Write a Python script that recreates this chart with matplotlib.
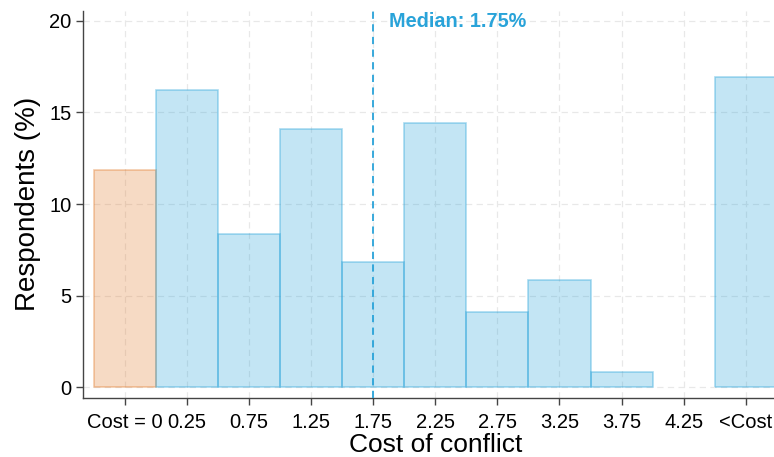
import matplotlib
matplotlib.use("Agg")
import matplotlib.pyplot as plt

categories = ["Cost = 0", "0.25", "0.75", "1.25", "1.75", "2.25", "2.75", "3.25", "3.75", "4.25", "<Cost"]
values = [11.86, 16.22, 8.38, 14.11, 6.84, 14.44, 4.12, 5.84, 0.85, 0.0, 16.91]
is_zero_cost = [True, False, False, False, False, False, False, False, False, False, False]
median_category = "1.75"
median_label = "Median: 1.75%"
y_ticks = [0, 5, 10, 15, 20]

plt.rcParams['font.family'] = ['Liberation Sans', 'DejaVu Sans']

BLUE = '#29a3d9'
ORANGE = '#e27b2c'

fig = plt.figure(figsize=(7.74, 4.57), dpi=100)
ax = fig.add_axes([0.1068, 0.1298, 0.911, 0.846])

x = list(range(len(categories)))
for xi, v, z in zip(x, values, is_zero_cost):
    if v <= 0:
        continue
    c = ORANGE if z else BLUE
    ax.bar(xi, v, width=1.0, color=c, alpha=0.28, zorder=2, linewidth=0)
    ax.bar(xi, v, width=1.0, fill=False, edgecolor=c, alpha=0.4, linewidth=1.2, zorder=3)

mx = categories.index(median_category)
ax.axvline(mx, color=BLUE, linestyle=(0, (4, 3)), linewidth=1.3, zorder=4)
ax.text(mx + 0.26, 19.95, median_label, color=BLUE, fontsize=14.3, fontweight='bold',
        ha='left', va='center', zorder=5)

ax.set_xlim(-0.676, 10.676)
ax.set_ylim(-0.567, 20.53)
ax.set_xticks(x)
ax.set_xticklabels(categories)
ax.set_yticks(y_ticks)

ax.grid(True, color='#e8e8e8', linestyle=(0, (5, 3.5)), linewidth=0.9, zorder=0)
ax.set_axisbelow(True)

for s in ['top', 'right']:
    ax.spines[s].set_visible(False)
for s in ['left', 'bottom']:
    ax.spines[s].set_color('#444444')
    ax.spines[s].set_linewidth(1.0)

ax.tick_params(axis='both', colors='#444444', labelcolor='black', length=5, width=1.0,
               labelsize=14.5)
ax.tick_params(axis='x', pad=6)
ax.tick_params(axis='y', pad=3)

ax.set_xlabel("Cost of conflict", fontsize=19, labelpad=1)
ax.set_ylabel("Respondents (%)", fontsize=20, labelpad=6)

fig.savefig("out.png", dpi=100)
